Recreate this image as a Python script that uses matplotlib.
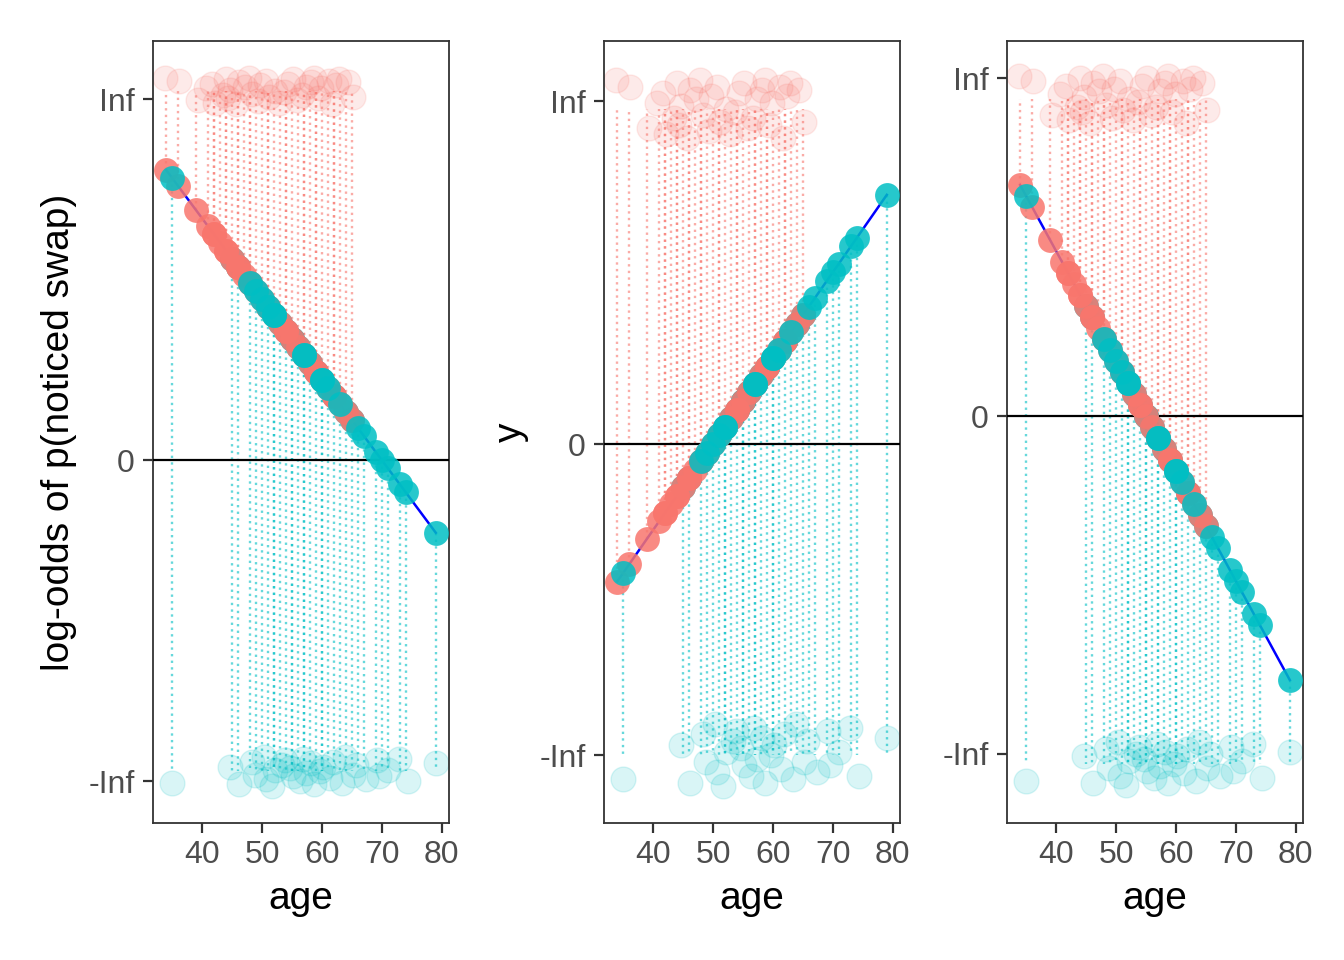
import numpy as np
import matplotlib.pyplot as plt

plt.rcParams['font.family'] = ['Liberation Sans', 'DejaVu Sans']

# edades de quienes notaron el cambio (rojo, arriba) y de quienes no (turquesa, abajo)
red_age = [34, 36, 39, 41, 42, 42, 43, 44, 44, 45, 46, 46, 47, 48, 48, 49, 50, 51, 51,
           52, 53, 54, 54, 55, 56, 57, 57, 58, 59, 59, 60, 61, 62, 62, 63, 64, 65]
red_jx = [-0.2, 0.1, 0.3, -0.4, 0.2, -0.3, 0.4, -0.1, 0.3, -0.3, 0.2, -0.4, 0.1, 0.4, -0.2,
          0.3, -0.3, 0.1, -0.4, 0.2, -0.1, 0.4, -0.3, 0.2, -0.2, 0.3, -0.4, 0.1, -0.3, 0.4,
          -0.1, 0.2, -0.3, 0.3, -0.2, 0.4, 0.1]
red_jy = [0.9, 0.7, -0.6, 0.2, -0.8, 0.5, -0.3, 0.8, -0.5, 0.1, 0.6, -0.9, 0.3, -0.2, 0.9,
          -0.7, 0.4, -0.4, 0.7, 0.0, -0.8, 0.5, -0.1, 0.8, -0.6, 0.3, -0.3, 0.6, 0.9, -0.5,
          0.2, 0.7, -0.9, 0.4, 0.8, 0.6, -0.4]

teal_age = [35, 45, 46, 48, 49, 50, 51, 52, 52, 53, 54, 55, 55, 56, 57, 57, 58, 59, 60,
            60, 61, 62, 63, 64, 65, 66, 67, 69, 70, 71, 73, 74, 79]
teal_jx = [0.0, -0.3, 0.2, 0.4, -0.2, 0.3, -0.4, 0.1, -0.3, 0.4, -0.1, 0.2, -0.4, 0.3, -0.2,
           0.4, 0.1, -0.3, 0.2, -0.4, 0.3, -0.1, 0.4, -0.2, 0.1, -0.3, 0.3, 0.2, -0.4, 0.1,
           -0.2, 0.3, 0.0]
teal_jy = [-0.7, 0.3, -0.8, 0.6, -0.2, 0.9, -0.5, 0.1, -0.9, 0.4, 0.7, -0.3, 0.2, -0.6, 0.8,
           -0.1, 0.5, -0.8, 0.3, 0.0, -0.4, 0.6, -0.7, 0.9, -0.2, 0.4, -0.5, 0.7, -0.3, 0.1,
           0.8, -0.6, 0.5]
# edades turquesa que quedan dibujadas encima de las rojas
teal_on_top = [35, 48, 49, 50, 51, 52, 57, 60, 61, 63, 66, 67, 69, 70, 71, 73, 74, 79]

# recta de cada panel: y = intercept + slope * age
intercepts = [7.0, -5.0, 5.5]
slopes = [-0.1, 0.1, -0.1]
ylabels = ['log-odds of p(noticed swap)', 'y', '']

# donde se dibujan Inf / -Inf y la banda de jitter en cada panel
inf_pos = [4.48, 3.99, 3.07]
ninf_pos = [-3.98, -3.62, -3.07]
top_center = [0.10, -0.09, -0.19]
top_half = [0.18, 0.37, 0.24]
bot_center = [0.12, 0.0, -0.09]
bot_half = [0.20, 0.40, 0.22]
ylims = [(-4.50, 5.20), (-4.41, 4.69), (-3.70, 3.41)]
lefts = [153, 604, 1007]

RED = '#F8766D'
TEAL = '#00BFC4'

red_age = np.array(red_age)
teal_age = np.array(teal_age)
all_age = np.concatenate([red_age, teal_age])
top_mask = np.isin(teal_age, teal_on_top)

fig = plt.figure(figsize=(13.44, 9.6), dpi=100)

for i in range(3):
    ax = fig.add_axes([lefts[i] / 1344, 1 - 823 / 960, 296 / 1344, 782 / 960])
    pred_r = intercepts[i] + slopes[i] * red_age
    pred_t = intercepts[i] + slopes[i] * teal_age
    top = inf_pos[i] + top_center[i]
    bot = ninf_pos[i] + bot_center[i]

    # segmentos punteados hasta Inf / -Inf
    ax.vlines(red_age, pred_r, np.full(len(red_age), top), colors=RED, alpha=0.6,
              linestyles=(0, (1, 1.8)), linewidth=1.7, zorder=1)
    ax.vlines(teal_age, pred_t, np.full(len(teal_age), bot), colors=TEAL, alpha=0.6,
              linestyles=(0, (1, 1.8)), linewidth=1.7, zorder=1)

    # puntos con jitter
    ax.scatter(red_age + np.array(red_jx), top + top_half[i] * np.array(red_jy), s=320,
               color=RED, alpha=0.15, edgecolors=RED, linewidths=1, zorder=2)
    ax.scatter(teal_age + np.array(teal_jx), bot + bot_half[i] * np.array(teal_jy), s=320,
               color=TEAL, alpha=0.15, edgecolors=TEAL, linewidths=1, zorder=2)

    ax.axhline(0, color='black', linewidth=1.6, zorder=3)

    x_line = np.array([all_age.min(), all_age.max()])
    ax.plot(x_line, intercepts[i] + slopes[i] * x_line, color='blue', linewidth=1.8, zorder=4)

    ax.scatter(teal_age[~top_mask], pred_t[~top_mask], s=320, color=TEAL, alpha=0.85,
               linewidths=0, zorder=5)
    ax.scatter(red_age, pred_r, s=320, color=RED, alpha=0.85, linewidths=0, zorder=5)
    ax.scatter(teal_age[top_mask], pred_t[top_mask], s=320, color=TEAL, alpha=0.85,
               linewidths=0, zorder=5)

    ax.set_xlim(31.8, 81.2)
    ax.set_ylim(*ylims[i])
    ax.set_xticks([40, 50, 60, 70, 80])
    ax.set_yticks([ninf_pos[i], 0, inf_pos[i]])
    ax.set_yticklabels(['-Inf', '0', 'Inf'])
    ax.tick_params(length=7, width=1.6, color='#333333', labelcolor='#4D4D4D',
                   labelsize=23)
    ax.tick_params(axis='x', pad=5)
    ax.tick_params(axis='y', pad=6)
    for sp in ax.spines.values():
        sp.set_color('#333333')
        sp.set_linewidth(1.3)
    ax.set_xlabel('age', fontsize=28, labelpad=8)
    if ylabels[i]:
        ax.set_ylabel(ylabels[i], fontsize=28, labelpad=8)

plt.savefig('out.png', dpi=100)
